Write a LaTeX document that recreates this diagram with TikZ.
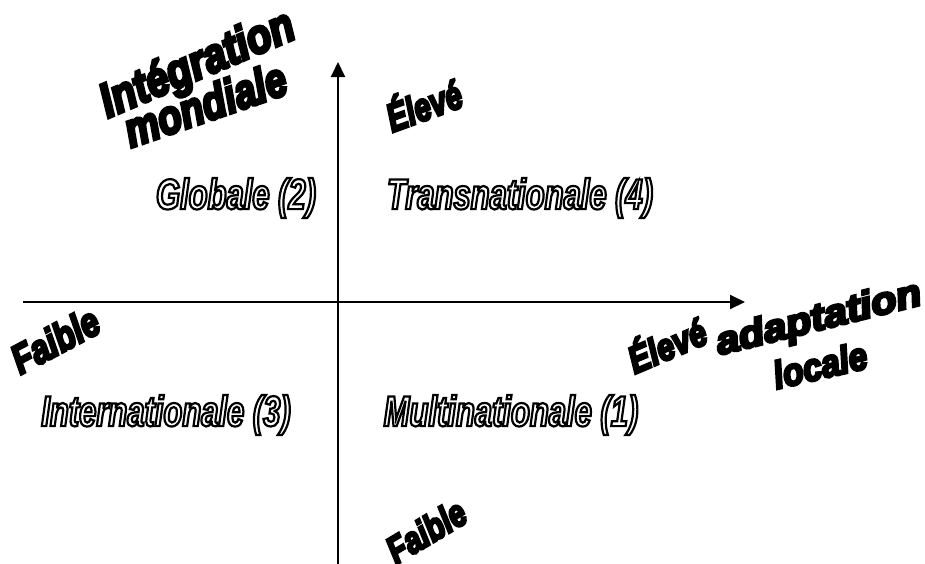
\documentclass[tikz,border=0pt]{standalone}
\usepackage{fontspec}
\setmainfont{Liberation Sans}
\newfontfamily\wafont{Liberation Sans Bold Italic}[FakeBold=7]
\newfontfamily\qfont{Liberation Sans Bold Italic}[FakeStretch=0.72]
\usetikzlibrary{arrows.meta}
\newcommand{\wart}[3]{\scalebox{#1}[#2]{\wafont #3}}
\newcommand{\hollow}[1]{\special{pdf:literal direct 1 Tr 2.2 w}{\qfont #1}\special{pdf:literal direct 0 Tr}}
\tikzset{
  axis/.style={line width=2pt, -{Triangle[length=15pt,width=14pt]}},
  wa/.style={inner sep=0pt, text=black},
  quad/.style={inner sep=0pt, font=\fontsize{43}{48}\selectfont},
}
\begin{document}
\begin{tikzpicture}[x=1pt,y=-1pt]
\useasboundingbox (0,0) rectangle (925,563);
\coordinate (xl) at (23,302);
\coordinate (xr) at (745,302);
\coordinate (yb) at (338,565);
\coordinate (yt) at (338,62);
\draw[axis] (xl) -- (xr);
\draw[axis] (yb) -- (yt);
% quadrant labels
\node[quad] (q2) at (236,198) {\hollow{Globale (2)}};
\node[quad] (q4) at (520,198) {\hollow{Transnationale (4)}};
\node[quad] (q3) at (166,415) {\hollow{Internationale (3)}};
\node[quad] (q1) at (511,415) {\hollow{Multinationale (1)}};
% WordArt labels
\node[wa, rotate=23, font=\fontsize{32}{36}\selectfont] (int) at (198,66) {\wart{1.25}{1.5}{Intégration}};
\node[wa, rotate=19, font=\fontsize{32}{36}\selectfont] (mon) at (205,104) {\wart{1.2}{1.5}{mondiale}};
\node[wa, rotate=20, font=\fontsize{27}{30}\selectfont] (ehaut) at (423,103) {\wart{1.1}{1.45}{Élevé}};
\node[wa, rotate=28, font=\fontsize{27}{30}\selectfont] (fg) at (55,340) {\wart{1.2}{1.5}{Faible}};
\node[wa, rotate=23, font=\fontsize{25}{30}\selectfont] (ed) at (666,343) {\wart{1.25}{1.5}{Élevé}};
\node[wa, rotate=14, font=\fontsize{32}{36}\selectfont] (adap) at (819,320) {\wart{1.3}{1.2}{adaptation}};
\node[wa, rotate=13, font=\fontsize{32}{36}\selectfont] (loc) at (820,365) {\wart{1.05}{1.2}{locale}};
\node[wa, rotate=31, font=\fontsize{27}{30}\selectfont] (fb) at (426,531) {\wart{1.1}{1.4}{Faible}};
\end{tikzpicture}
\end{document}
